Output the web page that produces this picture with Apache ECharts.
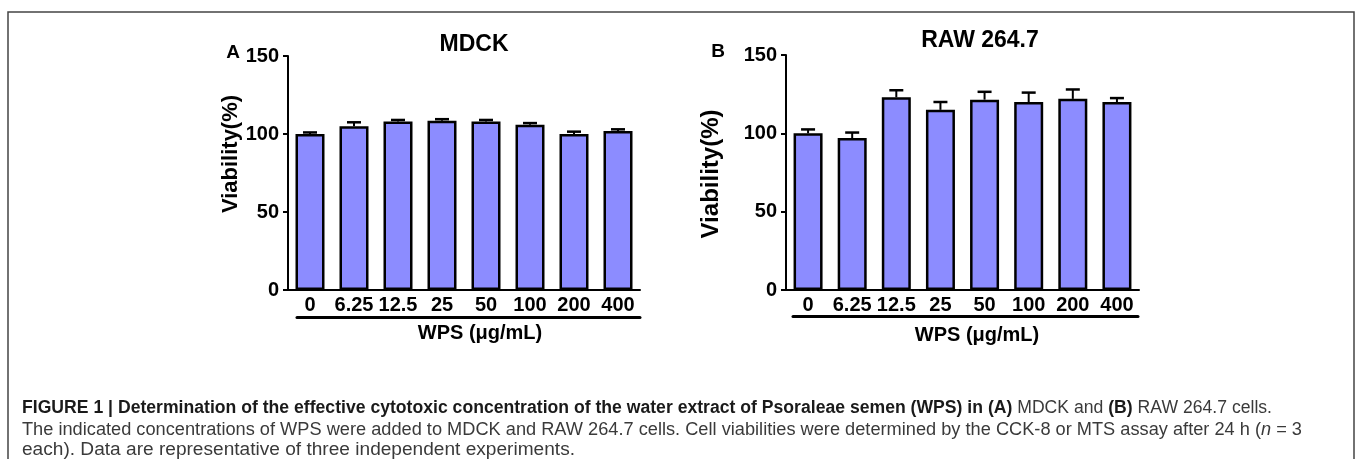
<!DOCTYPE html>
<html><head><meta charset="utf-8">
<script src="https://cdn.jsdelivr.net/npm/echarts@6/dist/echarts.min.js"></script>
<style>html,body{margin:0;padding:0;background:#fff}#c{width:1357px;height:459px}</style>
</head><body><div id="c"></div>
<script>
// ---- data ----
const categories = ['0', '6.25', '12.5', '25', '50', '100', '200', '400'];
const mdckMean = [100, 105, 108, 108.5, 108, 106, 100, 102];
const mdckErr  = [1, 2.5, 1, 1, 1, 1, 1.5, 1];
const rawMean  = [100, 97, 123, 115, 121.5, 120, 122, 120];
const rawErr   = [2.5, 3.5, 4.5, 5, 5, 6, 6, 2.5];
const yMin = 0, yMax = 150, yInterval = 50;
const panelTitles = ['MDCK', 'RAW 264.7'];
const panelLetters = ['A', 'B'];
const xName = 'WPS (\u03bcg/mL)';
const yName = 'Viability(%)';
const captionLines = [
  [['b', 'FIGURE 1 | Determination of the effective cytotoxic concentration of the water extract of Psoraleae semen (WPS) in (A)'], ['n', ' MDCK and '], ['b', '(B)'], ['n', ' RAW 264.7 cells.']],
  [['n', 'The indicated concentrations of WPS were added to MDCK and RAW 264.7 cells. Cell viabilities were determined by the CCK-8 or MTS assay after 24 h ('], ['i', 'n'], ['n', ' = 3']],
  [['n', 'each). Data are representative of three independent experiments.']]
];

// ---- styling ----
const FONT = "'Liberation Sans', Arial, Helvetica, sans-serif";
const CAPFONT = "'Liberation Sans Narrow', 'Liberation Sans', Arial, sans-serif";
const BAR = '#8C8CFF';
const grids = [
  { left: 288, top: 56, width: 352, height: 234 },
  { left: 786, top: 55, width: 353, height: 235 },
  { left: 297, top: 316, width: 343, height: 1 },
  { left: 793, top: 315, width: 345, height: 1 }
];

const xAxes = [0, 1, 2, 3].map(g => ({
  type: 'category', gridIndex: g, data: categories,
  axisLine: { show: true, lineStyle: { color: '#000', width: g < 2 ? 2 : 3 } },
  axisTick: { show: false },
  axisLabel: { show: g < 2, color: '#000', fontFamily: FONT, fontWeight: 'bold', fontSize: 20, margin: 5, interval: 0 }
}));
const yAxes = [0, 1, 2, 3].map(g => g < 2 ? ({
  type: 'value', gridIndex: g, min: yMin, max: yMax, interval: yInterval,
  axisLine: { show: true, lineStyle: { color: '#000', width: 2 } },
  axisTick: { show: true, length: 5, lineStyle: { color: '#000', width: 2 } },
  splitLine: { show: false },
  axisLabel: { color: '#000', fontFamily: FONT, fontWeight: 'bold', fontSize: 20, margin: 9 }
}) : ({ type: 'value', gridIndex: g, show: false, min: 0, max: 1 }));

function errRender(params, api) {
  const i = api.value(0), m = api.value(1), e = api.value(2);
  const b = api.coord([i, m]), t = api.coord([i, m + e]);
  const hw = 7;
  return { type: 'group', children: [
    { type: 'line', shape: { x1: b[0], y1: b[1], x2: t[0], y2: t[1] }, style: { stroke: '#000', lineWidth: 2 } },
    { type: 'line', shape: { x1: t[0] - hw, y1: t[1], x2: t[0] + hw, y2: t[1] }, style: { stroke: '#000', lineWidth: 2.5 } }
  ]};
}

function barSeries(g, vals) {
  return { type: 'bar', xAxisIndex: g, yAxisIndex: g, data: vals, barWidth: 29,
    itemStyle: { color: BAR, borderColor: '#000', borderWidth: 2.5 }, silent: true, z: 2 };
}
function errSeries(g, vals, errs) {
  return { type: 'custom', xAxisIndex: g, yAxisIndex: g, renderItem: errRender,
    data: vals.map((v, i) => [i, v, errs[i]]), encode: { x: 0, y: 1 }, z: 3, silent: true };
}

// caption measurement
const mctx = document.createElement('canvas').getContext('2d');
const capSize = 17.5;
const capStyles = {
  b: { fontWeight: 'bold', fontStyle: 'normal', color: '#1a1a1a' },
  n: { fontWeight: 'normal', fontStyle: 'normal', color: '#3a3a3a' },
  i: { fontWeight: 'normal', fontStyle: 'italic', color: '#3a3a3a' }
};
function segWidth(seg) {
  const s = capStyles[seg[0]];
  mctx.font = s.fontStyle + ' ' + s.fontWeight + ' ' + capSize + 'px ' + CAPFONT;
  return mctx.measureText(seg[1]).width;
}
const capTargets = [[22, 1272, 408], [22, 1302, 430], [22, 575, 450]];
const rich = {};
Object.keys(capStyles).forEach(k => {
  rich[k] = { fontFamily: CAPFONT, fontSize: capSize, fontWeight: capStyles[k].fontWeight, fontStyle: capStyles[k].fontStyle, fill: capStyles[k].color, color: capStyles[k].color };
});
const captionGraphics = captionLines.map((line, li) => {
  const w = line.reduce((a, s) => a + segWidth(s), 0);
  const [x0, x1, yc] = capTargets[li];
  return { type: 'text', x: x0, y: yc, scaleX: (x1 - x0) / w, silent: true,
    style: { text: line.map(s => '{' + s[0] + '|' + s[1] + '}').join(''), rich: rich,
      font: capSize + 'px ' + CAPFONT, verticalAlign: 'middle', align: 'left' } };
});

function label(text, x, y, size, extra) {
  return Object.assign({ type: 'text', x: x, y: y, silent: true,
    style: { text: text, fontFamily: FONT, fontSize: size, fontWeight: 'bold', fill: '#000', align: 'center', verticalAlign: 'middle' } }, extra || {});
}

const graphics = [
  { type: 'rect', shape: { x: 8, y: 12, width: 1346, height: 460 }, style: { fill: 'none', stroke: '#444', lineWidth: 1.5 }, silent: true },
  label(panelTitles[0], 474, 45, 23),
  label(panelTitles[1], 980, 41, 23),
  label(panelLetters[0], 233, 53, 19),
  label(panelLetters[1], 718, 52, 19),
  label(xName, 480, 333, 20),
  label(xName, 977, 335, 20),
  label(yName, 231, 154, 22, { rotation: Math.PI / 2 }),
  label(yName, 711, 174, 24, { rotation: Math.PI / 2 })
].concat(captionGraphics);

const chart = echarts.init(document.getElementById('c'), null, { renderer: 'canvas' });
chart.setOption({
  animation: false,
  backgroundColor: '#fff',
  grid: grids,
  xAxis: xAxes,
  yAxis: yAxes,
  series: [barSeries(0, mdckMean), errSeries(0, mdckMean, mdckErr), barSeries(1, rawMean), errSeries(1, rawMean, rawErr)],
  graphic: graphics
});
</script></body></html>
